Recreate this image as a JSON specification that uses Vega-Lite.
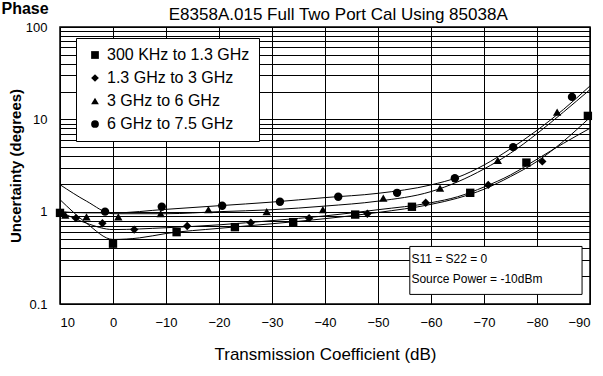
{
  "$schema": "https://vega.github.io/schema/vega-lite/v6.json",
  "width": 530,
  "height": 277,
  "autosize": "none",
  "padding": {"left": 60, "top": 27, "right": 13, "bottom": 72},
  "background": "white",
  "config": {
    "view": {"stroke": "black", "strokeWidth": 1.5},
    "font": "Liberation Sans",
    "axis": {"labelFont": "Liberation Sans", "titleFont": "Liberation Sans", "labelColor": "black", "titleColor": "black", "gridColor": "black", "gridOpacity": 1, "gridWidth": 1, "ticks": false, "domain": false, "labelFontSize": 13}
  },
  "datasets": {
    "markers": [
      {"series": "300 KHz to 1.3 GHz", "dB": 10, "unc": 0.97},
      {"series": "300 KHz to 1.3 GHz", "dB": 0, "unc": 0.45},
      {"series": "300 KHz to 1.3 GHz", "dB": -12, "unc": 0.6},
      {"series": "300 KHz to 1.3 GHz", "dB": -23, "unc": 0.68},
      {"series": "300 KHz to 1.3 GHz", "dB": -34, "unc": 0.77},
      {"series": "300 KHz to 1.3 GHz", "dB": -45.7, "unc": 0.93},
      {"series": "300 KHz to 1.3 GHz", "dB": -56.4, "unc": 1.13},
      {"series": "300 KHz to 1.3 GHz", "dB": -67.4, "unc": 1.6},
      {"series": "300 KHz to 1.3 GHz", "dB": -78, "unc": 3.4},
      {"series": "300 KHz to 1.3 GHz", "dB": -89.6, "unc": 10.9},
      {"series": "1.3 GHz to 3 GHz", "dB": 7, "unc": 0.85},
      {"series": "1.3 GHz to 3 GHz", "dB": 2, "unc": 0.75},
      {"series": "1.3 GHz to 3 GHz", "dB": -4, "unc": 0.64},
      {"series": "1.3 GHz to 3 GHz", "dB": -14, "unc": 0.7},
      {"series": "1.3 GHz to 3 GHz", "dB": -26, "unc": 0.76},
      {"series": "1.3 GHz to 3 GHz", "dB": -37, "unc": 0.85},
      {"series": "1.3 GHz to 3 GHz", "dB": -48, "unc": 0.95},
      {"series": "1.3 GHz to 3 GHz", "dB": -59, "unc": 1.25},
      {"series": "1.3 GHz to 3 GHz", "dB": -70.8, "unc": 1.95},
      {"series": "1.3 GHz to 3 GHz", "dB": -81, "unc": 3.5},
      {"series": "3 GHz to 6  GHz", "dB": 9, "unc": 0.92},
      {"series": "3 GHz to 6  GHz", "dB": 5, "unc": 0.88},
      {"series": "3 GHz to 6  GHz", "dB": -1, "unc": 0.88},
      {"series": "3 GHz to 6  GHz", "dB": -9, "unc": 0.95},
      {"series": "3 GHz to 6  GHz", "dB": -18, "unc": 1.05},
      {"series": "3 GHz to 6  GHz", "dB": -29, "unc": 1.0},
      {"series": "3 GHz to 6  GHz", "dB": -39.6, "unc": 1.05},
      {"series": "3 GHz to 6  GHz", "dB": -51, "unc": 1.4},
      {"series": "3 GHz to 6  GHz", "dB": -61.7, "unc": 1.8},
      {"series": "3 GHz to 6  GHz", "dB": -72.6, "unc": 3.6},
      {"series": "3 GHz to 6  GHz", "dB": -83.8, "unc": 12},
      {"series": "6 GHz to 7.5 GHz", "dB": 1.5, "unc": 1.0},
      {"series": "6 GHz to 7.5 GHz", "dB": -9.2, "unc": 1.13},
      {"series": "6 GHz to 7.5 GHz", "dB": -20.6, "unc": 1.16},
      {"series": "6 GHz to 7.5 GHz", "dB": -31.5, "unc": 1.28},
      {"series": "6 GHz to 7.5 GHz", "dB": -42.5, "unc": 1.45},
      {"series": "6 GHz to 7.5 GHz", "dB": -53.6, "unc": 1.6},
      {"series": "6 GHz to 7.5 GHz", "dB": -64.5, "unc": 2.3},
      {"series": "6 GHz to 7.5 GHz", "dB": -75.5, "unc": 5.0},
      {"series": "6 GHz to 7.5 GHz", "dB": -86.6, "unc": 17.5}
    ],
    "fits": [
      {"series": "sq", "dB": 10, "unc": 1.35}, {"series": "sq", "dB": 5, "unc": 0.75}, {"series": "sq", "dB": 0, "unc": 0.5},
      {"series": "sq", "dB": -5, "unc": 0.52}, {"series": "sq", "dB": -10, "unc": 0.58}, {"series": "sq", "dB": -20, "unc": 0.66},
      {"series": "sq", "dB": -30, "unc": 0.74}, {"series": "sq", "dB": -40, "unc": 0.84}, {"series": "sq", "dB": -50, "unc": 0.98},
      {"series": "sq", "dB": -60, "unc": 1.2}, {"series": "sq", "dB": -65, "unc": 1.4}, {"series": "sq", "dB": -70, "unc": 1.75},
      {"series": "sq", "dB": -75, "unc": 2.4}, {"series": "sq", "dB": -80, "unc": 3.5}, {"series": "sq", "dB": -85, "unc": 5.8},
      {"series": "sq", "dB": -90, "unc": 10.5},
      {"series": "di", "dB": 10, "unc": 1.0}, {"series": "di", "dB": 5, "unc": 0.75}, {"series": "di", "dB": 0, "unc": 0.64},
      {"series": "di", "dB": -10, "unc": 0.67}, {"series": "di", "dB": -20, "unc": 0.72}, {"series": "di", "dB": -30, "unc": 0.8},
      {"series": "di", "dB": -40, "unc": 0.9}, {"series": "di", "dB": -50, "unc": 1.05}, {"series": "di", "dB": -60, "unc": 1.25},
      {"series": "di", "dB": -65, "unc": 1.45}, {"series": "di", "dB": -70, "unc": 1.85}, {"series": "di", "dB": -75, "unc": 2.5},
      {"series": "di", "dB": -80, "unc": 3.7}, {"series": "di", "dB": -85, "unc": 5.5}, {"series": "di", "dB": -90, "unc": 8.0},
      {"series": "tr", "dB": 10, "unc": 1.96}, {"series": "tr", "dB": 5, "unc": 1.3}, {"series": "tr", "dB": 0, "unc": 0.95},
      {"series": "tr", "dB": -10, "unc": 0.95}, {"series": "tr", "dB": -20, "unc": 1.0}, {"series": "tr", "dB": -30, "unc": 1.05},
      {"series": "tr", "dB": -40, "unc": 1.15}, {"series": "tr", "dB": -50, "unc": 1.3}, {"series": "tr", "dB": -60, "unc": 1.65},
      {"series": "tr", "dB": -65, "unc": 2.1}, {"series": "tr", "dB": -70, "unc": 2.9}, {"series": "tr", "dB": -75, "unc": 4.3},
      {"series": "tr", "dB": -80, "unc": 7.0}, {"series": "tr", "dB": -85, "unc": 12.0}, {"series": "tr", "dB": -90, "unc": 21.0},
      {"series": "ci", "dB": 10, "unc": 1.0}, {"series": "ci", "dB": 5, "unc": 0.97}, {"series": "ci", "dB": 0, "unc": 0.97},
      {"series": "ci", "dB": -10, "unc": 1.06}, {"series": "ci", "dB": -20, "unc": 1.16}, {"series": "ci", "dB": -30, "unc": 1.27},
      {"series": "ci", "dB": -40, "unc": 1.42}, {"series": "ci", "dB": -50, "unc": 1.58}, {"series": "ci", "dB": -60, "unc": 1.95},
      {"series": "ci", "dB": -65, "unc": 2.35}, {"series": "ci", "dB": -70, "unc": 3.2}, {"series": "ci", "dB": -75, "unc": 4.8},
      {"series": "ci", "dB": -80, "unc": 7.6}, {"series": "ci", "dB": -85, "unc": 12.8}, {"series": "ci", "dB": -90, "unc": 23.0}
    ],
    "one": [{}]
  },
  "layer": [
    {
      "data": {"name": "fits"},
      "mark": {"type": "line", "color": "black", "strokeWidth": 1, "interpolate": "monotone", "clip": true},
      "encoding": {
        "x": {"field": "dB", "type": "quantitative", "scale": {"domain": [-90, 10], "reverse": true, "nice": false},
              "axis": {"values": [10, 0, -10, -20, -30, -40, -50, -60, -70, -80, -90], "title": "Transmission Coefficient (dB)", "titleFontSize": 17, "titleFontWeight": "normal", "titlePadding": 17, "labelPadding": 12, "labelFontSize": 13, "labelOverlap": false}},
        "y": {"field": "unc", "type": "quantitative", "scale": {"type": "log", "domain": [0.1, 100], "nice": false},
              "axis": {"values": [0.1,0.2,0.3,0.4,0.5,0.6,0.7,0.8,0.9,1,2,3,4,5,6,7,8,9,10,20,30,40,50,60,70,80,90,100],
                       "format": "~g", "labelExpr": "indexof([0.1,1,10,100], datum.value) >= 0 ? datum.label : ''",
                       "title": "Uncertainty (degrees)", "titleFontSize": 15, "titleFontWeight": "bold", "titlePadding": 2, "labelPadding": 13, "labelOverlap": false}},
        "detail": {"field": "series"}
      }
    },
    {
      "data": {"name": "markers"},
      "mark": {"type": "point", "filled": true, "color": "black", "opacity": 1, "size": 70},
      "encoding": {
        "x": {"field": "dB", "type": "quantitative"},
        "y": {"field": "unc", "type": "quantitative"},
        "shape": {"field": "series", "type": "nominal",
                  "scale": {"domain": ["300 KHz to 1.3 GHz", "1.3 GHz to 3 GHz", "3 GHz to 6  GHz", "6 GHz to 7.5 GHz"], "range": ["square", "diamond", "triangle-up", "circle"]},
                  "legend": {"title": null, "orient": "none", "legendX": 16, "legendY": 11, "fillColor": "white", "strokeColor": "black", "padding": 9,
                             "labelFontSize": 16, "labelColor": "black", "labelFont": "Liberation Sans", "symbolSize": 60, "symbolFillColor": "black", "symbolStrokeColor": "black", "rowPadding": 7, "labelLimit": 300, "symbolOffset": 2}}
      }
    },
    {
      "data": {"name": "one"},
      "mark": {"type": "rect", "fill": "white", "stroke": "black", "strokeWidth": 1},
      "encoding": {"x": {"datum": -56}, "x2": {"datum": -88.5}, "y": {"datum": 0.42}, "y2": {"datum": 0.127}}
    },
    {
      "data": {"name": "one"},
      "mark": {"type": "text", "align": "left", "baseline": "middle", "fontSize": 12, "color": "black"},
      "encoding": {"x": {"datum": -56.3}, "y": {"datum": 0.31}, "text": {"value": "S11 = S22 = 0"}}
    },
    {
      "data": {"name": "one"},
      "mark": {"type": "text", "align": "left", "baseline": "middle", "fontSize": 12, "color": "black"},
      "encoding": {"x": {"datum": -56.3}, "y": {"datum": 0.185}, "text": {"value": "Source Power = -10dBm"}}
    },
    {
      "data": {"name": "one"},
      "mark": {"type": "text", "align": "center", "baseline": "alphabetic", "fontSize": 17, "color": "black"},
      "encoding": {"x": {"datum": -42.5}, "y": {"datum": 119}, "text": {"value": "E8358A.015 Full Two Port Cal Using 85038A"}}
    },
    {
      "data": {"name": "one"},
      "mark": {"type": "text", "align": "center", "baseline": "alphabetic", "fontSize": 16, "fontWeight": "bold", "color": "black"},
      "encoding": {"x": {"datum": 16.6}, "y": {"datum": 138}, "text": {"value": "Phase"}}
    }
  ]
}
